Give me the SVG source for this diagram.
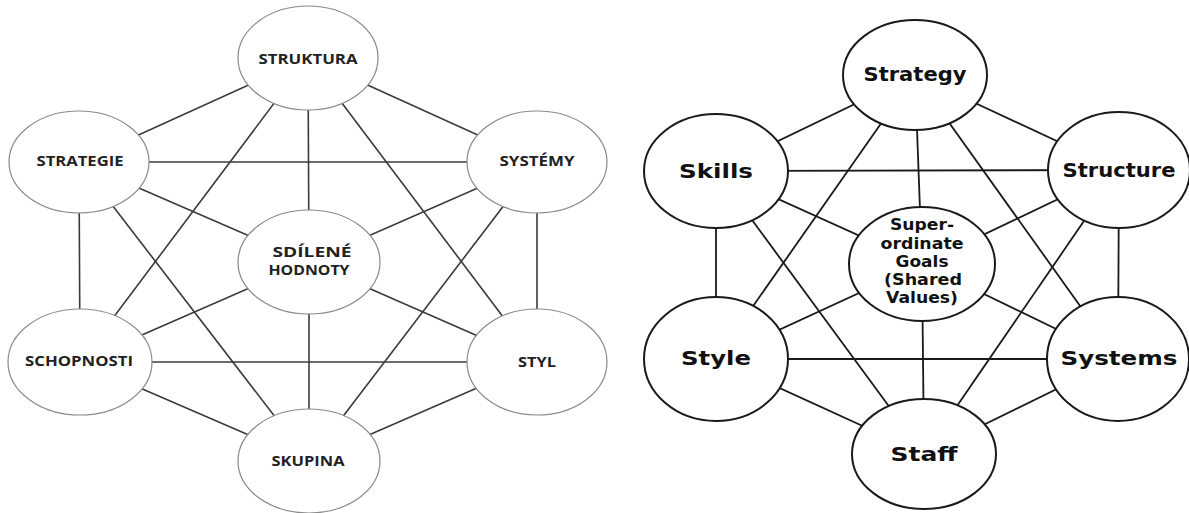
<svg xmlns="http://www.w3.org/2000/svg" width="1189" height="513" viewBox="0 0 1189 513">
<style>
.bg{fill:#fff}
.le{fill:#fff;stroke:#8a8a8a;stroke-width:1.2}
.ll{stroke:#3a3a3a;stroke-width:1.6;fill:none}
.lt{font-family:"Open Sans","Liberation Sans",sans-serif;font-weight:bold;font-size:14px;fill:#222;text-anchor:middle}
.re{fill:#fff;stroke:#1a1a1a;stroke-width:2}
.rl{stroke:#1a1a1a;stroke-width:1.8;fill:none}
.rt{font-family:"DejaVu Sans",sans-serif;font-weight:bold;font-size:19px;fill:#111;text-anchor:middle}
.rs{font-family:"DejaVu Sans",sans-serif;font-weight:bold;font-size:15px;fill:#111;text-anchor:middle}
</style>
<rect class="bg" x="0" y="0" width="1189" height="513"/>
<g id="connectors-left">
<line class="ll" x1="308" y1="58" x2="79" y2="162"/>
<line class="ll" x1="308" y1="58" x2="537" y2="162"/>
<line class="ll" x1="308" y1="58" x2="309" y2="262"/>
<line class="ll" x1="308" y1="58" x2="80" y2="362"/>
<line class="ll" x1="308" y1="58" x2="537" y2="362"/>
<line class="ll" x1="79" y1="162" x2="537" y2="162"/>
<line class="ll" x1="79" y1="162" x2="309" y2="262"/>
<line class="ll" x1="79" y1="162" x2="80" y2="362"/>
<line class="ll" x1="79" y1="162" x2="309" y2="461"/>
<line class="ll" x1="537" y1="162" x2="309" y2="262"/>
<line class="ll" x1="537" y1="162" x2="537" y2="362"/>
<line class="ll" x1="537" y1="162" x2="309" y2="461"/>
<line class="ll" x1="309" y1="262" x2="80" y2="362"/>
<line class="ll" x1="309" y1="262" x2="537" y2="362"/>
<line class="ll" x1="309" y1="262" x2="309" y2="461"/>
<line class="ll" x1="80" y1="362" x2="537" y2="362"/>
<line class="ll" x1="80" y1="362" x2="309" y2="461"/>
<line class="ll" x1="537" y1="362" x2="309" y2="461"/>
</g>
<g id="connectors-right">
<line class="rl" x1="915" y1="75" x2="716" y2="171"/>
<line class="rl" x1="915" y1="75" x2="1119" y2="170"/>
<line class="rl" x1="915" y1="75" x2="922" y2="264"/>
<line class="rl" x1="915" y1="75" x2="716" y2="359"/>
<line class="rl" x1="915" y1="75" x2="1118" y2="359"/>
<line class="rl" x1="716" y1="171" x2="1119" y2="170"/>
<line class="rl" x1="716" y1="171" x2="922" y2="264"/>
<line class="rl" x1="716" y1="171" x2="716" y2="359"/>
<line class="rl" x1="716" y1="171" x2="924" y2="454"/>
<line class="rl" x1="1119" y1="170" x2="922" y2="264"/>
<line class="rl" x1="1119" y1="170" x2="1118" y2="359"/>
<line class="rl" x1="1119" y1="170" x2="924" y2="454"/>
<line class="rl" x1="922" y1="264" x2="716" y2="359"/>
<line class="rl" x1="922" y1="264" x2="1118" y2="359"/>
<line class="rl" x1="922" y1="264" x2="924" y2="454"/>
<line class="rl" x1="716" y1="359" x2="1118" y2="359"/>
<line class="rl" x1="716" y1="359" x2="924" y2="454"/>
<line class="rl" x1="1118" y1="359" x2="924" y2="454"/>
</g>
<g id="struktura"><ellipse class="le" cx="308" cy="58" rx="70" ry="52"/><text class="lt" x="308" y="64" textLength="99" lengthAdjust="spacingAndGlyphs">STRUKTURA</text></g>
<g id="strategie"><ellipse class="le" cx="79" cy="162" rx="70" ry="51"/><text class="lt" x="80" y="166" textLength="87" lengthAdjust="spacingAndGlyphs">STRATEGIE</text></g>
<g id="systemy"><ellipse class="le" cx="537" cy="162" rx="70" ry="51"/><text class="lt" x="537" y="166" textLength="75" lengthAdjust="spacingAndGlyphs">SYSTÉMY</text></g>
<g id="sdilene-hodnoty"><ellipse class="le" cx="309" cy="262" rx="71" ry="52"/><text class="lt" x="312" y="257" textLength="79" lengthAdjust="spacingAndGlyphs">SDÍLENÉ</text><text class="lt" x="309" y="275" textLength="81" lengthAdjust="spacingAndGlyphs">HODNOTY</text></g>
<g id="schopnosti"><ellipse class="le" cx="80" cy="362" rx="72" ry="53"/><text class="lt" x="79" y="366" textLength="108" lengthAdjust="spacingAndGlyphs">SCHOPNOSTI</text></g>
<g id="styl"><ellipse class="le" cx="537" cy="362" rx="70" ry="53"/><text class="lt" x="537" y="367" textLength="38" lengthAdjust="spacingAndGlyphs">STYL</text></g>
<g id="skupina"><ellipse class="le" cx="309" cy="461" rx="71" ry="52"/><text class="lt" x="308" y="466" textLength="73" lengthAdjust="spacingAndGlyphs">SKUPINA</text></g>
<g id="strategy"><ellipse class="re" cx="915" cy="75" rx="72" ry="55"/><text class="rt" x="915" y="81" textLength="103" lengthAdjust="spacingAndGlyphs">Strategy</text></g>
<g id="skills"><ellipse class="re" cx="716" cy="171" rx="72" ry="57"/><text class="rt" x="716" y="178" textLength="74" lengthAdjust="spacingAndGlyphs">Skills</text></g>
<g id="structure"><ellipse class="re" cx="1119" cy="170" rx="71" ry="58"/><text class="rt" x="1119" y="177" textLength="113" lengthAdjust="spacingAndGlyphs">Structure</text></g>
<g id="superordinate-goals"><ellipse class="re" cx="922" cy="264" rx="73" ry="57"/>
<text class="rs" x="922" y="230" textLength="64" lengthAdjust="spacingAndGlyphs">Super-</text>
<text class="rs" x="922" y="249" textLength="83" lengthAdjust="spacingAndGlyphs">ordinate</text>
<text class="rs" x="922" y="267" textLength="53" lengthAdjust="spacingAndGlyphs">Goals</text>
<text class="rs" x="923" y="285" textLength="78" lengthAdjust="spacingAndGlyphs">(Shared</text>
<text class="rs" x="922" y="303" textLength="72" lengthAdjust="spacingAndGlyphs">Values)</text></g>
<g id="style"><ellipse class="re" cx="716" cy="359" rx="72" ry="62"/><text class="rt" x="716" y="365" textLength="70" lengthAdjust="spacingAndGlyphs">Style</text></g>
<g id="systems"><ellipse class="re" cx="1118" cy="359" rx="71" ry="62"/><text class="rt" x="1119" y="365" textLength="117" lengthAdjust="spacingAndGlyphs">Systems</text></g>
<g id="staff"><ellipse class="re" cx="924" cy="454" rx="72" ry="55"/><text class="rt" x="924" y="461" textLength="67" lengthAdjust="spacingAndGlyphs">Staff</text></g>
</svg>
